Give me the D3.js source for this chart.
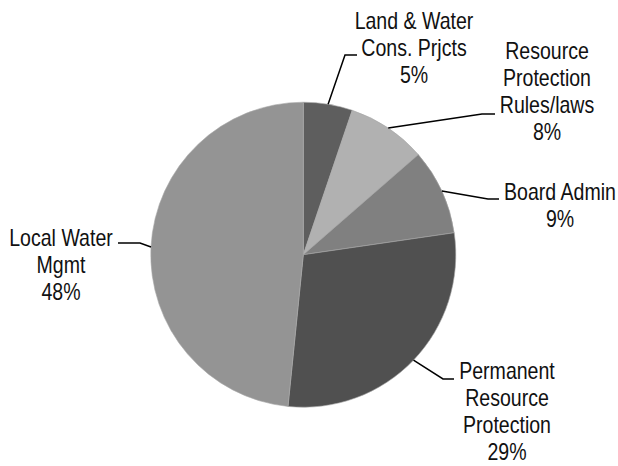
<!DOCTYPE html>
<html>
<head>
<meta charset="utf-8">
<script src="https://cdn.jsdelivr.net/npm/d3@7"></script>
<style>
  body { margin: 0; background: #fff; }
  text { font-family: "Liberation Sans Narrow", "Arial Narrow", "Liberation Sans", Arial, sans-serif; font-size: 23px; fill: #111; }
</style>
</head>
<body>
<div id="chart"></div>
<script>
// slice data, clockwise from 12 o'clock
const categories = ["Land & Water Cons. Prjcts", "Resource Protection Rules/laws", "Board Admin", "Permanent Resource Protection", "Local Water Mgmt"];
const shares = [5.2, 8.4, 9.1, 28.9, 48.4];
const labelLines = [
    ["Land & Water", "Cons. Prjcts"],
    ["Resource", "Protection", "Rules/laws"],
    ["Board Admin"],
    ["Permanent", "Resource", "Protection"],
    ["Local Water", "Mgmt"]
];
const colors = ["#5e5e5e", "#b1b1b1", "#808080", "#505050", "#949494"];

// label layout: elbow point, end of leader, text centre and first baseline
const labelLayout = [
    { elbow: [345, 55], end: [357, 55], cx: 414, y: 29 },
    { elbow: [482, 114], end: [495, 114], cx: 547, y: 59 },
    { elbow: [488, 199], end: [499, 199], cx: 560, y: 200 },
    { elbow: [443, 379], end: [454, 379], cx: 507, y: 379 },
    { elbow: [140, 243], end: [118, 243], cx: 61, y: 246 }
];

const width = 618, height = 466;
const cx = 303.3, cy = 254.7, radius = 152.5;
const lineH = 27;
const squeeze = 0.85; // narrow face not installed, so condense by hand

const svg = d3.select("#chart").append("svg")
    .attr("width", width).attr("height", height);

const pie = d3.pie().sort(null).value(d => d);
const arcs = pie(shares);
const arc = d3.arc().innerRadius(0).outerRadius(radius);

const g = svg.append("g").attr("transform", `translate(${cx},${cy})`);

g.selectAll("path.slice").data(arcs).enter().append("path")
    .attr("class", "slice")
    .attr("d", arc)
    .attr("fill", (d, i) => colors[i])
    .attr("stroke", "#a8a8a8")
    .attr("stroke-width", 0.6);

// leader lines
svg.append("g").selectAll("path").data(arcs).enter().append("path")
    .attr("fill", "none")
    .attr("stroke", "#000")
    .attr("stroke-width", 1.5)
    .attr("d", (d, i) => {
        const mid = (d.startAngle + d.endAngle) / 2;
        const p = [cx + radius * Math.sin(mid), cy - radius * Math.cos(mid)];
        const L = labelLayout[i];
        return `M${p[0]},${p[1]}L${L.elbow[0]},${L.elbow[1]}L${L.end[0]},${L.end[1]}`;
    });

// labels
const labels = svg.append("g");
arcs.forEach((d, i) => {
    const L = labelLayout[i];
    const lines = labelLines[i].concat([Math.round(shares[i]) + "%"]);
    const t = labels.append("text")
        .attr("text-anchor", "middle")
        .attr("transform", `translate(${L.cx},0) scale(${squeeze},1)`);
    lines.forEach((s, j) => {
        t.append("tspan").attr("x", 0).attr("y", L.y + j * lineH).text(s);
    });
});
</script>
</body>
</html>
